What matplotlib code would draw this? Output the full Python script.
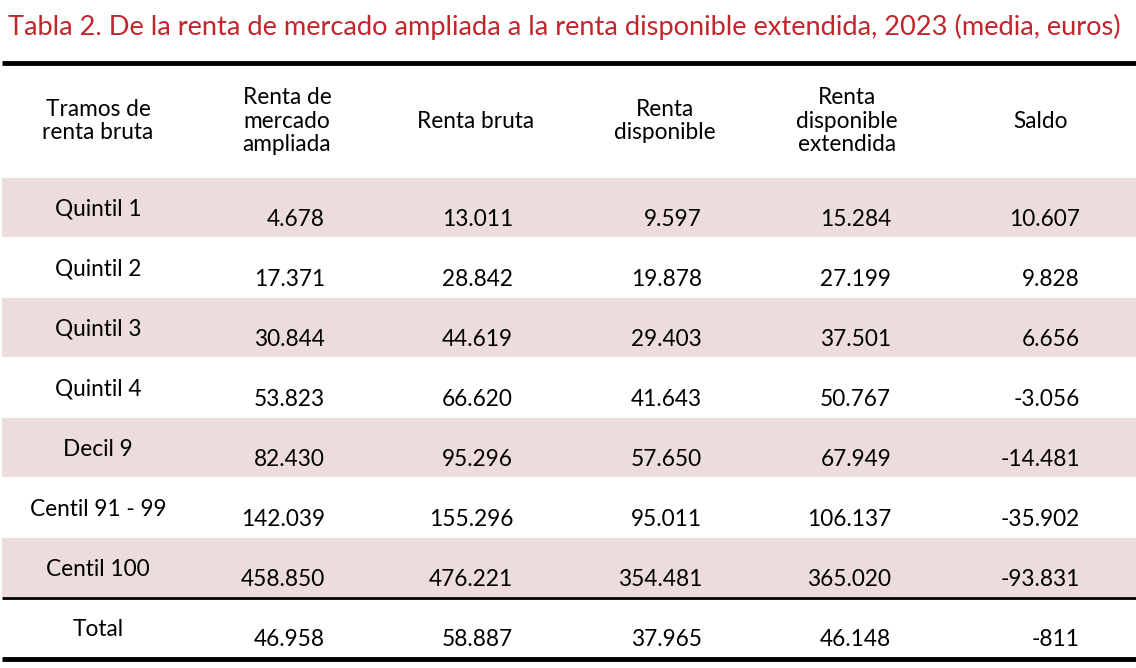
import matplotlib.pyplot as plt
from matplotlib.patches import Rectangle

plt.rcParams['font.family'] = ['Lato', 'DejaVu Sans']

title = "Tabla 2. De la renta de mercado ampliada a la renta disponible extendida, 2023 (media, euros)"
headers = ["Tramos de\nrenta bruta", "Renta de\nmercado\nampliada", "Renta bruta",
           "Renta\ndisponible", "Renta\ndisponible\nextendida", "Saldo"]
tramos = ["Quintil 1", "Quintil 2", "Quintil 3", "Quintil 4", "Decil 9",
          "Centil 91 - 99", "Centil 100", "Total"]
mercado = ["4.678", "17.371", "30.844", "53.823", "82.430", "142.039", "458.850", "46.958"]
bruta = ["13.011", "28.842", "44.619", "66.620", "95.296", "155.296", "476.221", "58.887"]
disponible = ["9.597", "19.878", "29.403", "41.643", "57.650", "95.011", "354.481", "37.965"]
extendida = ["15.284", "27.199", "37.501", "50.767", "67.949", "106.137", "365.020", "46.148"]
saldo = ["10.607", "9.828", "6.656", "-3.056", "-14.481", "-35.902", "-93.831", "-811"]

W, H = 1136, 668
fig = plt.figure(figsize=(W / 100, H / 100), dpi=100)
ax = fig.add_axes([0, 0, 1, 1])
ax.set_xlim(0, W)
ax.set_ylim(H, 0)
ax.axis('off')

ax.text(8, 27, title, color='#C0262C', fontsize=19.6, va='center', ha='left')

# cabecera
ax.plot([2, W], [63, 63], color='black', lw=3.5, solid_capstyle='butt')
hx = [98, 287, 476, 665, 847, 1041]
for x, h in zip(hx, headers):
    ax.text(x, 121, h, ha='center', va='center', fontsize=16.3, linespacing=1.15)

row_top = 178
row_h = 60
num_right = [325, 513, 702, 891, 1080]
cols = [mercado, bruta, disponible, extendida, saldo]
for i, name in enumerate(tramos):
    top = row_top + i * row_h
    if i < 7 and i % 2 == 0:
        ax.add_patch(Rectangle((2, top), W - 2, row_h - 1, color='#ECDCDC', lw=0))
    ax.text(98, top + 31, name, ha='center', va='center', fontsize=16.3)
    for x, col in zip(num_right, cols):
        ax.text(x, top + 41, col[i], ha='right', va='center', fontsize=16.3)

ax.plot([2, W], [598, 598], color='black', lw=2, solid_capstyle='butt')
ax.plot([2, W], [659, 659], color='black', lw=3.5, solid_capstyle='butt')

fig.savefig('out.png', dpi=100)
